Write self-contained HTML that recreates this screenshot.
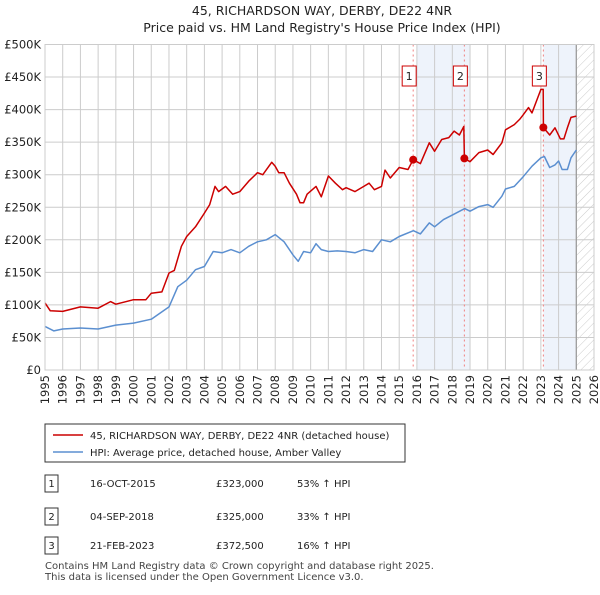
<!DOCTYPE html>
<html><head><meta charset="utf-8"><style>
body{margin:0;background:#fff;font-family:"Liberation Sans","DejaVu Sans",sans-serif;}
svg text{font-family:"DejaVu Sans","Liberation Sans",sans-serif;}
</style></head><body>
<svg id="c" width="600" height="590" viewBox="0 0 600 590" xmlns="http://www.w3.org/2000/svg">
<defs><pattern id="hatch" width="6" height="6" patternUnits="userSpaceOnUse" patternTransform="rotate(45)"><line x1="0" y1="0" x2="0" y2="6" stroke="#ccc" stroke-width="1"/></pattern></defs>
<text x="322" y="15" text-anchor="middle" font-size="12.5" fill="#222">45, RICHARDSON WAY, DERBY, DE22 4NR</text>
<text x="322" y="32" text-anchor="middle" font-size="12.5" fill="#222">Price paid vs. HM Land Registry's House Price Index (HPI)</text>
<g id="plot"></g>
<g>
<rect x="45" y="424" width="360" height="38" fill="#fff" stroke="#333" stroke-width="1"/>
<line x1="53" y1="435" x2="83" y2="435" stroke="#cc0000" stroke-width="1.6"/>
<text x="90" y="439" font-size="10" fill="#222">45, RICHARDSON WAY, DERBY, DE22 4NR (detached house)</text>
<line x1="53" y1="452" x2="83" y2="452" stroke="#5b8fd0" stroke-width="1.6"/>
<text x="90" y="456" font-size="10" fill="#222">HPI: Average price, detached house, Amber Valley</text>
</g>
<g font-size="10" fill="#222">
<rect x="45" y="475" width="13" height="17" fill="#fff" stroke="#333"/><text x="51.5" y="487" text-anchor="middle">1</text>
<text x="90" y="487">16-OCT-2015</text><text x="216" y="487">£323,000</text><text x="297" y="487">53% ↑ HPI</text>
<rect x="45" y="508" width="13" height="17" fill="#fff" stroke="#333"/><text x="51.5" y="520" text-anchor="middle">2</text>
<text x="90" y="520">04-SEP-2018</text><text x="216" y="520">£325,000</text><text x="297" y="520">33% ↑ HPI</text>
<rect x="45" y="537" width="13" height="17" fill="#fff" stroke="#333"/><text x="51.5" y="549" text-anchor="middle">3</text>
<text x="90" y="549">21-FEB-2023</text><text x="216" y="549">£372,500</text><text x="297" y="549">16% ↑ HPI</text>
</g>
<text x="45" y="569" font-size="10" fill="#444">Contains HM Land Registry data © Crown copyright and database right 2025.</text>
<text x="45" y="580" font-size="10" fill="#444">This data is licensed under the Open Government Licence v3.0.</text>
</svg>
<script>
const hpiDates=[1995.0,1995.5,1996,1997,1998,1999,2000,2001,2002,2002.5,2003,2003.5,2004,2004.5,2005,2005.5,2006,2006.5,2007,2007.5,2008,2008.5,2009,2009.3,2009.6,2010,2010.3,2010.6,2011,2011.5,2012,2012.5,2013,2013.5,2014,2014.5,2015,2015.8,2016.2,2016.7,2017,2017.5,2018,2018.7,2019,2019.5,2020,2020.3,2020.8,2021,2021.5,2022,2022.5,2023,2023.2,2023.5,2023.8,2024,2024.2,2024.5,2024.7,2025];
const hpiValues=[67,60,63,64.5,63,69,72,78,97,128,138,154,159,182,180,185,180,190,197,200,208,197,177,167,182,180,194,185,182,183,182,180,185,182,200,197,205,214,209,226,220,231,238,248,244,251,254,250,267,278,282,297,313,326,328,311,315,321,308,308,326,338];
const priceDates=[1995.0,1995.3,1996,1997,1998,1998.7,1999,2000,2000.7,2001,2001.6,2002,2002.3,2002.7,2003,2003.5,2004,2004.3,2004.6,2004.8,2005.2,2005.6,2006,2006.5,2007,2007.3,2007.8,2008,2008.2,2008.5,2008.8,2009.2,2009.4,2009.6,2009.8,2010.3,2010.6,2011,2011.4,2011.8,2012,2012.5,2013,2013.3,2013.6,2014,2014.2,2014.5,2015,2015.5,2015.79,2016.2,2016.7,2017,2017.4,2017.8,2018.1,2018.4,2018.65,2018.68,2019,2019.5,2020,2020.3,2020.8,2021,2021.5,2021.8,2022,2022.3,2022.5,2023.0,2023.13,2023.14,2023.5,2023.8,2024.1,2024.3,2024.5,2024.7,2025];
const priceValues=[103,91,90,97,95,105,101,108,108,118,120,149,153,190,205,220,241,254,282,274,282,270,274,290,303,300,319,313,303,303,287,270,257,257,270,282,266,298,287,277,280,274,282,287,277,282,307,295,311,308,323,317,349,336,354,357,367,361,374,325,320,334,338,331,349,369,377,385,392,403,395,431,431,372.5,361,372,355,355,372,388,390];
const saleDates=[2015.79,2018.68,2023.14];
const saleValues=[323,325,372.5];
const saleLabels=["1","2","3"];
const yTicks=[0,50,100,150,200,250,300,350,400,450,500];
const yTickLabels=["£0","£50K","£100K","£150K","£200K","£250K","£300K","£350K","£400K","£450K","£500K"];
const xTicks=[1995,1996,1997,1998,1999,2000,2001,2002,2003,2004,2005,2006,2007,2008,2009,2010,2011,2012,2013,2014,2015,2016,2017,2018,2019,2020,2021,2022,2023,2024,2025,2026];

const L=45,R=594,T=44.5,B=370;
const xs=d=>L+(d-1995)/31*(R-L);
const ys=v=>B-v/500*(B-T);
const NS="http://www.w3.org/2000/svg";
const g=document.getElementById('plot');
function mk(tag,attrs,parent){const e=document.createElementNS(NS,tag);for(const k in attrs)e.setAttribute(k,attrs[k]);(parent||g).appendChild(e);return e;}
// shading
let s=mk('rect',{x:xs(2016),y:T,width:xs(2019)-xs(2016),height:B-T,fill:'#eef3fb'});


s=mk('rect',{x:xs(saleDates[2]),y:T,width:xs(2025)-xs(saleDates[2]),height:B-T,fill:'#eef3fb'});


s=mk('rect',{x:xs(2025),y:T,width:R-xs(2025),height:B-T,fill:'url(#hatch)'});


// grid
yTicks.forEach((v,i)=>{
 const l=mk('line',{x1:L,x2:R,y1:ys(v),y2:ys(v),stroke:'#ccc','stroke-width':1});
 
 
 const t=mk('text',{x:L-4,y:ys(v)+4,'text-anchor':'end','font-size':11.5,fill:'#222'});
 t.textContent=yTickLabels[i];
 
 
});
xTicks.forEach(d=>{
 const l=mk('line',{x1:xs(d),x2:xs(d),y1:T,y2:B,stroke:'#ccc','stroke-width':1});
 
 
 const t=mk('text',{transform:`translate(${xs(d)+4},${B+5}) rotate(-90)`,'text-anchor':'end','font-size':11.5,fill:'#222'});
 t.textContent=d;
 
 
});
let ln=mk('line',{x1:xs(2025),x2:xs(2025),y1:T,y2:B,stroke:'#999','stroke-width':1.2});


// sale vlines
saleDates.forEach((d,i)=>{
 const l=mk('line',{x1:xs(d),x2:xs(d),y1:T,y2:B,stroke:'#f08080','stroke-width':1,'stroke-dasharray':'2,3'});
 
 
});
function path(dates,vals,color,name){
 const p=mk('path',{d:dates.map((d,i)=>(i?'L':'M')+xs(d).toFixed(1)+','+ys(vals[i]).toFixed(1)).join(''),fill:'none',stroke:color,'stroke-width':1.5,'stroke-linejoin':'round'});
 
 
}
path(hpiDates,hpiValues,'#5b8fd0','hpi-line');
path(priceDates,priceValues,'#cc0000','price-paid-line');
saleDates.forEach((d,i)=>{
 const c=mk('circle',{cx:xs(d),cy:ys(saleValues[i]),r:4,fill:'#cc0000'});
 
 
 const b=mk('rect',{x:xs(d)-11,y:66,width:14,height:20,fill:'#fff',stroke:'#cc0000','stroke-width':1});
 
 
 const t=mk('text',{x:xs(d)-4,y:80,'text-anchor':'middle','font-size':11,fill:'#222'});
 t.textContent=saleLabels[i];
 
 
});
const fr=mk('rect',{x:L,y:T,width:R-L,height:B-T,fill:'none',stroke:'#ccc','stroke-width':1});


</script>
</body></html>
